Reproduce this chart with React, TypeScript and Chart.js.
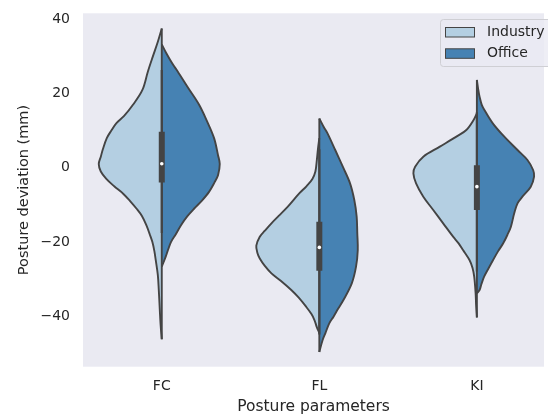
import React, { useEffect, useRef } from "react";
import { Chart, registerables } from "chart.js";

Chart.register(...registerables);

// ---- data ----
const categories = ["FC", "FL", "KI"];
const groups = ["Industry", "Office"];
const yTicks = [-40, -20, 0, 20, 40];

// violin halves: y levels (mm) and half-widths (in category units)
const fcIndustryY = [37.6, 34, 30, 26, 21, 17, 14, 12, 10, 8, 5, 3, 1, -1, -3, -5, -7, -9, -11, -13, -15.5, -18, -20, -22.5, -25, -29, -33, -38, -42, -46.3];
const fcIndustryW = [0, 0.025, 0.057, 0.088, 0.123, 0.183, 0.239, 0.289, 0.321, 0.349, 0.374, 0.387, 0.4, 0.387, 0.352, 0.302, 0.245, 0.201, 0.161, 0.126, 0.098, 0.076, 0.06, 0.047, 0.038, 0.025, 0.019, 0.013, 0.008, 0];
const fcOfficeY = [33.3, 31, 28, 26, 21.4, 17, 12.4, 8, 3.4, 1, -2, -4, -6.5, -9, -11, -13, -15.5, -18, -20, -22, -24, -26.7];
const fcOfficeW = [0, 0.028, 0.069, 0.101, 0.17, 0.237, 0.289, 0.332, 0.357, 0.368, 0.357, 0.334, 0.3, 0.252, 0.206, 0.164, 0.122, 0.088, 0.059, 0.041, 0.025, 0];
const flIndustryY = [8, 5, 2, -1, -3, -5, -7, -10.5, -13, -15, -17, -18.6, -21, -23, -24.5, -26.5, -28.5, -30.5, -33, -35, -37.5, -39.5, -41.1, -43, -44.6];
const flIndustryW = [0, 0.009, 0.016, 0.025, 0.044, 0.082, 0.129, 0.2, 0.258, 0.304, 0.346, 0.378, 0.4, 0.393, 0.378, 0.346, 0.304, 0.245, 0.178, 0.132, 0.084, 0.05, 0.031, 0.016, 0];
const flOfficeY = [13.3, 11, 9.3, 4.8, 0.3, -4.2, -8.7, -13.2, -17.7, -22.2, -26.7, -31.2, -35.7, -38, -40.2, -42, -44.7, -46.5, -49.7];
const flOfficeW = [0, 0.028, 0.052, 0.101, 0.149, 0.195, 0.222, 0.237, 0.241, 0.244, 0.233, 0.206, 0.153, 0.12, 0.09, 0.063, 0.038, 0.021, 0];
const kiIndustryY = [14.7, 12.9, 10.2, 8.4, 5.7, 3, 0.3, -1.5, -4.2, -7.8, -11.4, -15, -18.6, -20.4, -22.2, -24.9, -27, -29.4, -33.9, -37, -40.4];
const kiIndustryW = [0, 0.021, 0.067, 0.13, 0.235, 0.34, 0.392, 0.403, 0.386, 0.34, 0.277, 0.214, 0.151, 0.116, 0.088, 0.047, 0.028, 0.017, 0.008, 0.005, 0];
const kiOfficeY = [23.7, 21, 19.2, 17, 15.6, 12, 8.4, 4.8, 2.1, -0.6, -2.4, -5.1, -7.8, -9.6, -12.3, -15.9, -18, -20.4, -22.5, -24.9, -27, -29.4, -31.5, -33, -33.9];
const kiOfficeW = [0, 0.009, 0.017, 0.031, 0.048, 0.101, 0.174, 0.258, 0.321, 0.357, 0.363, 0.342, 0.289, 0.258, 0.237, 0.216, 0.195, 0.167, 0.135, 0.103, 0.076, 0.046, 0.028, 0.017, 0];

// inner box statistics per category
const boxQ1 = [-4.0, -27.8, -11.4];
const boxQ3 = [9.7, -14.6, 0.7];
const medians = [1.1, -21.5, -5.1];
const whiskerLow = [-17.6, -45, -28];
const whiskerHigh = [26.4, 5, 15];

// ---- styles ----
const COLORS = ["#b4cfe2", "#4682b3"];
const OUTLINE = "#444444";
const TEXT = "#262626";
const BG = "#eaeaf2";
const FONT = "'DejaVu Sans', sans-serif";

const halves = [
  [[fcIndustryY, fcIndustryW], [fcOfficeY, fcOfficeW]],
  [[flIndustryY, flIndustryW], [flOfficeY, flOfficeW]],
  [[kiIndustryY, kiIndustryW], [kiOfficeY, kiOfficeW]],
];

const minus = (v: number) => (v < 0 ? "\u2212" + Math.abs(v) : String(v));

const bgPlugin = {
  id: "plotBg",
  beforeDraw(chart: any) {
    const { ctx, chartArea } = chart;
    ctx.save();
    ctx.fillStyle = BG;
    ctx.fillRect(chartArea.left, chartArea.top, chartArea.right - chartArea.left, chartArea.bottom - chartArea.top);
    ctx.restore();
  },
};

const legendPlugin = {
  id: "violinLegend",
  afterDraw(chart: any) {
    const ctx = chart.ctx;
    ctx.save();
    const x0 = 440.5, y0 = 19.5, w = 130, h = 47, r = 3;
    ctx.beginPath();
    ctx.moveTo(x0 + r, y0);
    ctx.lineTo(x0 + w, y0);
    ctx.lineTo(x0 + w, y0 + h);
    ctx.lineTo(x0 + r, y0 + h);
    ctx.arcTo(x0, y0 + h, x0, y0 + h - r, r);
    ctx.lineTo(x0, y0 + r);
    ctx.arcTo(x0, y0, x0 + r, y0, r);
    ctx.closePath();
    ctx.fillStyle = "rgba(234,234,242,0.8)";
    ctx.fill();
    ctx.strokeStyle = "#cfcfd4";
    ctx.lineWidth = 1;
    ctx.stroke();
    groups.forEach((g, i) => {
      const cy = 32 + i * 21.3;
      ctx.fillStyle = COLORS[i];
      ctx.fillRect(445.5, cy - 4.5, 29, 9.5);
      ctx.strokeStyle = OUTLINE;
      ctx.lineWidth = 1;
      ctx.strokeRect(445.5, cy - 4.5, 29, 9.5);
      ctx.fillStyle = TEXT;
      ctx.font = "14px " + FONT;
      ctx.textBaseline = "middle";
      ctx.textAlign = "left";
      ctx.fillText(g, 487, cy + 0.5);
    });
    ctx.restore();
  },
};

export default function App() {
  const ref = useRef<HTMLCanvasElement | null>(null);

  useEffect(() => {
    if (!ref.current) return;
    const datasets: any[] = [];

    halves.forEach((pair, k) => {
      pair.forEach(([ys, ws], g) => {
        const side = g === 0 ? -1 : 1;
        datasets.push({
          label: groups[g] + " " + categories[k],
          data: ys.map((v, i) => ({ x: k + side * ws[i], y: v })),
          fill: { value: k },
          backgroundColor: COLORS[g],
          borderColor: OUTLINE,
          borderWidth: 1.9,
          pointRadius: 0,
          tension: 0.35,
          order: 10,
        });
      });
      const top = Math.max(pair[0][0][0], pair[1][0][0]);
      const bottom = Math.min(pair[0][0][pair[0][0].length - 1], pair[1][0][pair[1][0].length - 1]);
      datasets.push({
        label: "seam " + categories[k],
        data: [{ x: k, y: top }, { x: k, y: bottom }],
        borderColor: OUTLINE,
        borderWidth: 1.9,
        pointRadius: 0,
        fill: false,
        order: 5,
      });
      datasets.push({
        label: "whisker " + categories[k],
        data: [{ x: k, y: whiskerHigh[k] }, { x: k, y: whiskerLow[k] }],
        borderColor: OUTLINE,
        borderWidth: 2.2,
        pointRadius: 0,
        fill: false,
        order: 4,
      });
      datasets.push({
        label: "box " + categories[k],
        data: [{ x: k, y: boxQ3[k] }, { x: k, y: boxQ1[k] }],
        borderColor: OUTLINE,
        borderWidth: 6,
        borderCapStyle: "butt",
        pointRadius: 0,
        fill: false,
        order: 3,
      });
      datasets.push({
        label: "median " + categories[k],
        data: [{ x: k, y: medians[k] }],
        showLine: false,
        pointRadius: 1.8,
        pointBorderWidth: 0,
        pointBackgroundColor: "#ffffff",
        fill: false,
        order: 1,
      });
    });

    const chart = new Chart(ref.current, {
      type: "line",
      data: { datasets },
      plugins: [bgPlugin, legendPlugin],
      options: {
        indexAxis: "y",
        animation: false,
        responsive: false,
        events: [],
        layout: { padding: { top: 13.3, left: 0, right: 0, bottom: 0 } },
        plugins: { legend: { display: false }, tooltip: { enabled: false } },
        scales: {
          x: {
            type: "linear",
            position: "bottom",
            min: -0.5,
            max: 2.426,
            grid: { display: false, drawTicks: false },
            border: { display: false },
            afterBuildTicks: (s: any) => {
              s.ticks = categories.map((_, i) => ({ value: i }));
            },
            afterFit: (s: any) => {
              s.height = 50.3;
              s.paddingLeft = 0;
              s.paddingRight = 0;
            },
            ticks: {
              color: TEXT,
              font: { family: FONT, size: 14 },
              padding: 11.5,
              maxRotation: 0,
              autoSkip: false,
              callback: (v: any) => categories[v as number] ?? "",
            },
            title: {
              display: true,
              text: "Posture parameters",
              color: TEXT,
              font: { family: FONT, size: 15.5 },
              padding: { top: 0, bottom: 0.5 },
            },
          },
          y: {
            type: "linear",
            position: "left",
            min: -53.7,
            max: 41.7,
            grid: { display: false, drawTicks: false },
            border: { display: false },
            afterBuildTicks: (s: any) => {
              s.ticks = yTicks.map((v) => ({ value: v }));
            },
            afterFit: (s: any) => {
              s.width = 83;
              s.paddingTop = 0;
              s.paddingBottom = 0;
            },
            ticks: {
              color: TEXT,
              font: { family: FONT, size: 14 },
              padding: 13,
              autoSkip: false,
              callback: (v: any) => minus(v as number),
            },
            title: {
              display: true,
              text: "Posture deviation (mm)",
              color: TEXT,
              font: { family: FONT, size: 14.5 },
              padding: { top: 16, bottom: 0 },
            },
          },
        },
      } as any,
    });
    return () => chart.destroy();
  }, []);

  return (
    <div style={{ position: "fixed", left: 0, top: 0, width: 548, height: 417, background: "#ffffff" }}>
      <canvas ref={ref} width={548} height={417} style={{ display: "block", width: 548, height: 417 }} />
    </div>
  );
}
